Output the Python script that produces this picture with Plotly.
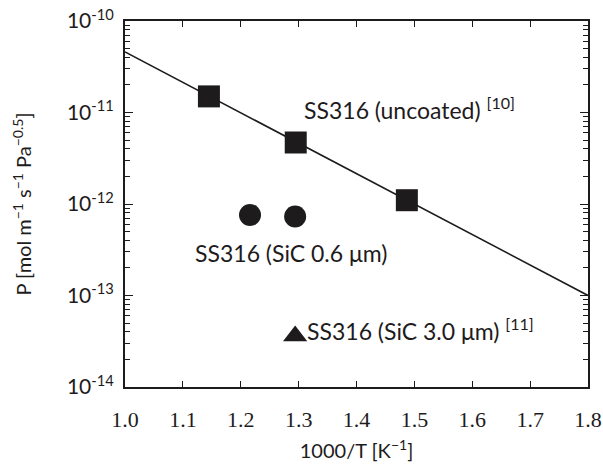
import plotly.graph_objects as go

# Data
uncoated_x = [1.145, 1.295, 1.487]
uncoated_y = [1.5e-11, 4.7e-12, 1.1e-12]
sic06_x = [1.216, 1.294]
sic06_y = [7.6e-13, 7.3e-13]
sic30_x = [1.294]
sic30_y = [3.6e-14]
fit_x = [1.0, 1.8]
fit_y = [4.6e-11, 1.0e-13]

ytick_vals = [1e-14, 1e-13, 1e-12, 1e-11, 1e-10]
ytick_text = ["10<sup>-14</sup>", "10<sup>-13</sup>", "10<sup>-12</sup>", "10<sup>-11</sup>", "10<sup>-10</sup>"]
xtick_vals = [1.0, 1.1, 1.2, 1.3, 1.4, 1.5, 1.6, 1.7, 1.8]
xtick_text = ["1.0", "1.1", "1.2", "1.3", "1.4", "1.5", "1.6", "1.7", "1.8"]
decades = [-14, -13, -12, -11]
minor_digits = [2, 3, 4, 5, 6, 7, 8, 9]
ytick_minor = [d * 10.0 ** e for e in decades for d in minor_digits]

SANS = "Lato, 'Noto Sans', sans-serif"
SERIF = "'Liberation Serif', 'DejaVu Serif', serif"
INK = "#1e1b1c"

fig = go.Figure()
fig.add_trace(go.Scatter(x=fit_x, y=fit_y, mode="lines",
                         line=dict(color=INK, width=1.6), showlegend=False))
fig.add_trace(go.Scatter(x=uncoated_x, y=uncoated_y, mode="markers",
                         marker=dict(symbol="square", size=22, color=INK), showlegend=False))
fig.add_trace(go.Scatter(x=sic06_x, y=sic06_y, mode="markers",
                         marker=dict(symbol="circle", size=22, color=INK), showlegend=False))
fig.add_trace(go.Scatter(x=sic30_x, y=sic30_y, mode="markers",
                         marker=dict(symbol="triangle-up", size=21, color=INK), showlegend=False))

ann_font = dict(family=SANS, size=23, color=INK)
fig.add_annotation(x=1.305, y=-10.96, xref="x", yref="y", text="SS316 (uncoated) <sup>[10]</sup>",
                   showarrow=False, xanchor="left", yanchor="middle", font=ann_font)
fig.add_annotation(x=1.118, y=-12.535, xref="x", yref="y", text="SS316 (SiC 0.6 μm)",
                   showarrow=False, xanchor="left", yanchor="middle", font=ann_font)
fig.add_annotation(x=1.311, y=-13.37, xref="x", yref="y", text="SS316 (SiC 3.0 μm) <sup>[11]</sup>",
                   showarrow=False, xanchor="left", yanchor="middle", font=ann_font)

fig.update_layout(
    width=603, height=467,
    margin=dict(l=125, r=15, t=21, b=80),
    paper_bgcolor="white", plot_bgcolor="white",
    xaxis=dict(range=[1.0, 1.8], tickvals=xtick_vals, ticktext=xtick_text, automargin=False,
               ticks="inside", ticklen=6, tickwidth=1, tickcolor=INK,
               showline=True, linecolor=INK, linewidth=2, mirror="ticks",
               showgrid=False, zeroline=False,
               tickfont=dict(family=SERIF, size=22, color=INK), ticklabelstandoff=12,
               title=dict(text="1000/T [K<sup>−1</sup>]", font=dict(family=SANS, size=20, color=INK),
                          standoff=13)),
    yaxis=dict(type="log", range=[-14, -10], tickvals=ytick_vals, ticktext=ytick_text, automargin=False,
               ticks="inside", ticklen=8, tickwidth=1, tickcolor=INK,
               minor=dict(ticks="inside", ticklen=5, tickmode="array", tickvals=ytick_minor,
                          tickcolor=INK, tickwidth=1),
               showline=True, linecolor=INK, linewidth=2, mirror="allticks",
               showgrid=False, zeroline=False,
               tickfont=dict(family=SANS, size=21, color=INK), ticklabelstandoff=5,
               title=dict(text="P [mol m<sup>−1</sup> s<sup>−1</sup> Pa<sup>−0.5</sup>]",
                          font=dict(family=SANS, size=20, color=INK), standoff=30)),
)

fig.write_html("out.html", config={"displayModeBar": False},
               post_script="document.body.style.margin='0';")
